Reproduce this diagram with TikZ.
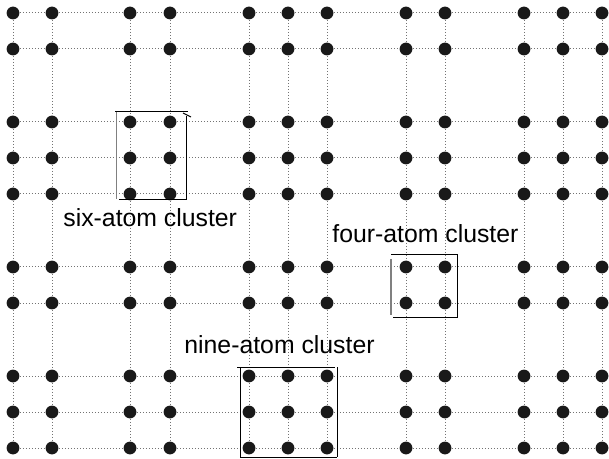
\documentclass[tikz,border=0pt]{standalone}
\usepackage{fontspec}
\setmainfont{Liberation Sans}

\tikzset{
  atom/.style={circle, fill=black!90, inner sep=0pt, minimum size=6.4pt},
  bond/.style={black!55, densely dotted, line width=0.5pt},
  frame/.style={black, line width=0.5pt},
  clustertext/.style={inner sep=0pt, anchor=base west, font=\fontsize{12.4pt}{14pt}\selectfont}
}

\begin{document}
\begin{tikzpicture}[x=0.5pt, y=-0.5pt]
  \useasboundingbox (0,0) rectangle (609,459);

  % lattice sites
  \foreach \x [count=\i] in {13,52,130,170,249,288,327,406,445,524,563,602}
    \foreach \y [count=\j] in {13,49,122,158,194,267,303,376,412,448}
      \node (a\i-\j) [atom] at (\x,\y) {};

  % vertical bonds
  \foreach \i in {1,...,12} {
    \foreach \j in {1,...,9} {
      \pgfmathtruncatemacro\k{\j+1}
      \draw [bond] (a\i-\j) -- (a\i-\k);
    }
  }
  % horizontal bonds
  \foreach \j in {1,...,10} {
    \foreach \i in {1,...,11} {
      \pgfmathtruncatemacro\k{\i+1}
      \draw [bond] (a\i-\j) -- (a\k-\j);
    }
  }

  % six-atom box
  \draw [frame] (115,112) -- (188,112);
  \draw [frame] (183,113) -- (191,117);
  \draw [frame, gray, line width=0.8pt] (116.5,112) -- (116.5,199);
  \draw [frame] (186,116) -- (186,200);
  \draw [frame] (119,200) -- (187,200);

  % four-atom box
  \draw [frame] (391,255) -- (458,255);
  \draw [frame, gray, line width=0.8pt] (391,259) -- (391,315);
  \draw [frame] (457,255) -- (457,318);
  \draw [frame] (393,317) -- (457,317);

  % nine-atom box
  \draw [frame] (237,367) -- (335,367);
  \draw [frame] (240,368) -- (240,457);
  \draw [frame] (337,367) -- (337,457);
  \draw [frame] (240,457) -- (337,457);

  \node (six) [clustertext] at (63,227) {six-atom cluster};
  \node (four) [clustertext] at (332,243) {four-atom cluster};
  \node (nine) [clustertext] at (184,353) {nine-atom cluster};

\end{tikzpicture}
\end{document}
